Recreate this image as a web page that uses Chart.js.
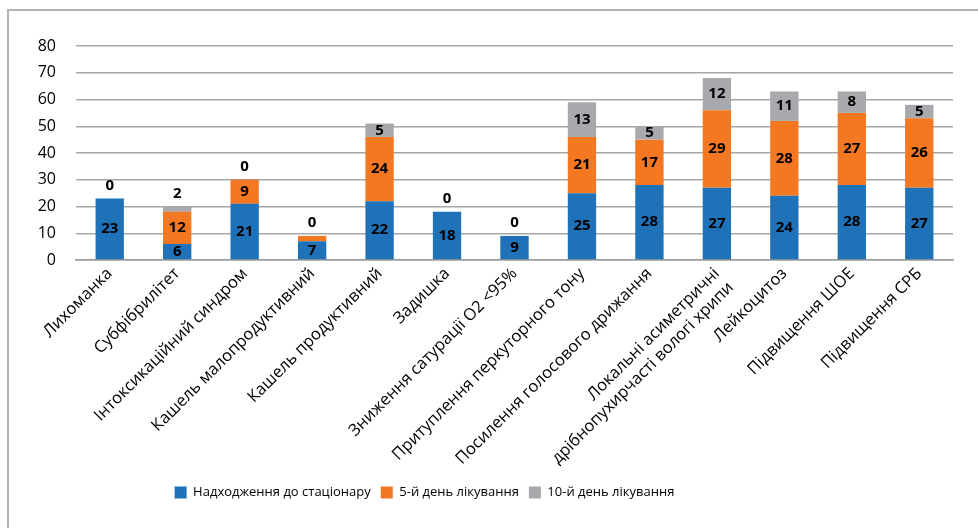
<!DOCTYPE html>
<html>
<head>
<meta charset="utf-8">
<script src="https://cdn.jsdelivr.net/npm/chart.js@4"></script>
<style>
  body { margin: 0; background: #fff; }
  #frame { position: absolute; left: 7px; top: 9px; width: 980px; height: 530px;
           border-left: 2px solid #b4b4b4; border-top: 2px solid #b4b4b4; }
  #wrap { position: absolute; left: 0; top: 0; width: 978px; height: 528px; }
</style>
</head>
<body>
<div id="frame"></div>
<div id="wrap"><canvas id="grafico" width="978" height="528"></canvas></div>
<script>
const categorias = [
    "Лихоманка",
    "Субфібрилітет",
    "Інтоксикаційний синдром",
    "Кашель малопродуктивний",
    "Кашель продуктивний",
    "Задишка",
    "Зниження сатурації О2 <95%",
    "Притуплення перкуторного тону",
    "Посилення голосового дрижання",
    ["Локальні асиметричні", "дрібнопухирчасті вологі хрипи"],
    "Лейкоцитоз",
    "Підвищення ШОЕ",
    "Підвищення СРБ"
];
const nazvySerii = ["Надходження до стаціонару", "5-й день лікування", "10-й день лікування"];
const nadkhodzhennia = [23, 6, 21, 7, 22, 18, 9, 25, 28, 27, 24, 28, 27];
const den5 = [0, 12, 9, 2, 24, 0, 0, 21, 17, 29, 28, 27, 26];
const den10 = [0, 2, 0, 0, 5, 0, 0, 13, 5, 12, 11, 8, 5];
const yTicks = [0, 10, 20, 30, 40, 50, 60, 70, 80];

const fontFamily = "'Open Sans', 'Noto Sans', sans-serif";

// підписи значень на стовпчиках
const pidpysy = {
    id: "pidpysy",
    afterDatasetsDraw(chart) {
        const ctx = chart.ctx;
        ctx.save();
        ctx.font = "bold 15px " + fontFamily;
        ctx.fillStyle = "#000";
        ctx.textAlign = "center";
        ctx.textBaseline = "middle";
        chart.data.datasets.forEach((ds, i) => {
            const meta = chart.getDatasetMeta(i);
            meta.data.forEach((bar, j) => {
                const v = ds.data[j];
                const mid = (bar.y + bar.base) / 2;
                if (i === 0) {
                    ctx.fillText(v, bar.x, mid);
                } else if (i === 1) {
                    if (v >= 3) ctx.fillText(v, bar.x, mid);
                } else {
                    if (v <= 2) ctx.fillText(v, bar.x, bar.y - 13);
                    else ctx.fillText(v, bar.x, mid);
                }
            });
        });
        ctx.restore();
    }
};

// зсув легенди ліворуч
const zsuvLegendy = {
    id: "zsuvLegendy",
    afterLayout(chart) {
        chart.legend.left -= 52;
        chart.legend.right -= 52;
    }
};

new Chart(document.getElementById("grafico"), {
    type: "bar",
    data: {
        labels: categorias,
        datasets: [
            { label: nazvySerii[0], data: nadkhodzhennia, backgroundColor: "#1f71b8" },
            { label: nazvySerii[1], data: den5, backgroundColor: "#f47721" },
            { label: nazvySerii[2], data: den10, backgroundColor: "#a7a9ac" }
        ]
    },
    options: {
        responsive: false,
        animation: false,
        layout: { padding: { left: 0, right: 25, top: 46, bottom: 19 } },
        datasets: { bar: { categoryPercentage: 1, barPercentage: 0.42 } },
        plugins: {
            legend: {
                position: "bottom",
                labels: {
                    boxWidth: 12,
                    boxHeight: 12,
                    padding: 10,
                    color: "#000",
                    font: { family: fontFamily, size: 13 }
                }
            },
            tooltip: { enabled: false }
        },
        scales: {
            x: {
                stacked: true,
                grid: { display: false, drawTicks: false },
                border: { color: "#9a9a9a", width: 1.5 },
                ticks: {
                    maxRotation: 45,
                    minRotation: 45,
                    autoSkip: false,
                    padding: 4,
                    color: "#000",
                    font: { family: fontFamily, size: 16.5 }
                },
                afterFit(scale) { scale.height = 216; }
            },
            y: {
                stacked: true,
                min: 0,
                max: 80,
                afterBuildTicks(scale) { scale.ticks = yTicks.map(v => ({ value: v })); },
                grid: { color: "#a6a6a6", lineWidth: 1.5, drawTicks: false },
                border: { display: false },
                ticks: {
                    padding: 20,
                    color: "#000",
                    font: { family: fontFamily, size: 16 }
                },
                afterFit(scale) { scale.width = 76; }
            }
        }
    },
    plugins: [pidpysy, zsuvLegendy]
});
</script>
</body>
</html>
